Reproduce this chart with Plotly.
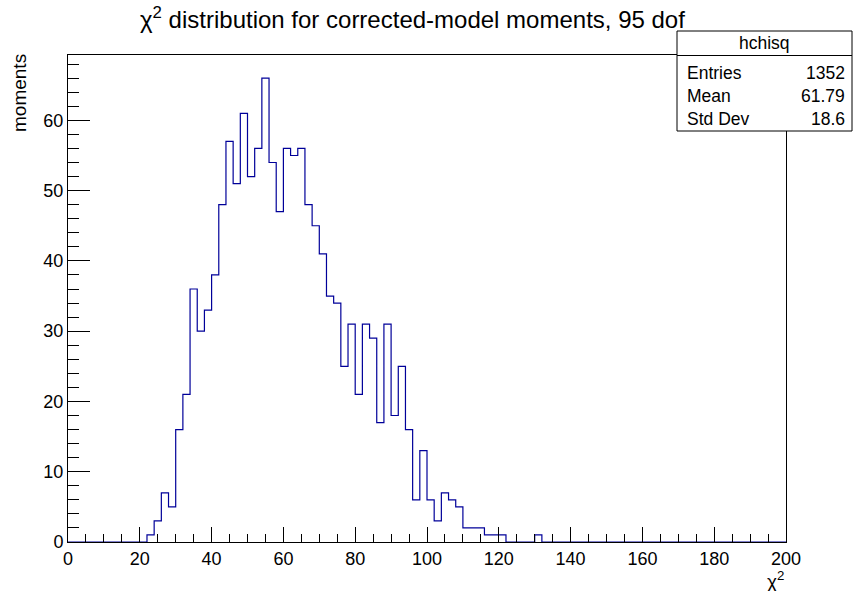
import plotly.graph_objects as go

# ---------------- data ----------------
x_low, x_high, n_bins = 0, 200, 100
counts = [
    0, 0, 0, 0, 0, 0, 0, 0, 0, 0,          # 0-20
    0, 1, 3, 7, 5, 16, 21, 36, 30, 33,     # 20-40
    38, 48, 57, 51, 61, 52, 56, 66, 54, 47,  # 40-60
    56, 55, 56, 48, 45, 41, 35, 34, 25, 31,  # 60-80
    21, 31, 29, 17, 31, 18, 25, 16, 6, 13,   # 80-100
    6, 3, 7, 6, 5, 2, 2, 2, 1, 1,          # 100-120
    1, 0, 0, 0, 0, 1, 0, 0, 0, 0,          # 120-140
    0, 0, 0, 0, 0, 0, 0, 0, 0, 0,          # 140-160
    0, 0, 0, 0, 0, 0, 0, 0, 0, 0,          # 160-180
    0, 0, 0, 0, 0, 0, 0, 0, 0, 0,          # 180-200
]
stats_name = "hchisq"
stats_labels = ["Entries", "Mean", "Std Dev"]
stats_values = ["1352", "61.79", "18.6"]
title_text = "χ<sup>2</sup> distribution for corrected-model moments, 95 dof"
x_title = "χ<sup>2</sup>"
y_title = "moments"
x_ticks = list(range(0, 201, 20))
y_ticks = list(range(0, 61, 10))

# ---------------- geometry ----------------
W, H = 856, 591
L, R, T, B = 68, 786, 55, 542   # frame in pixels
pw, ph = R - L, B - T
def px(x):
    return (x - L) / pw
def py(y):
    return (B - y) / ph

bw = (x_high - x_low) / n_bins
edges = [x_low + i * bw for i in range(n_bins + 1)]
ys = counts + [counts[-1]]
ymax = max(counts) * 1.05

FONT = "Liberation Sans, Arial, Helvetica, sans-serif"

fig = go.Figure()
fig.add_trace(go.Scatter(
    x=edges, y=ys, mode="lines", line=dict(shape="hv", color="#000099", width=1.2),
    hoverinfo="skip", showlegend=False))

fig.update_layout(
    width=W, height=H,
    margin=dict(l=L, r=W - R, t=T, b=H - B),
    paper_bgcolor="white", plot_bgcolor="white",
    font=dict(family=FONT, size=18, color="black"),
    showlegend=False,
)
fig.update_xaxes(
    range=[x_low, x_high], tickvals=x_ticks, ticktext=[str(v) for v in x_ticks],
    ticks="inside", ticklen=15, tickwidth=1, tickcolor="black",
    minor=dict(ticks="inside", ticklen=8, dtick=5, tick0=0, tickcolor="black", tickwidth=1, showgrid=False),
    showline=True, linecolor="black", linewidth=1, mirror=True,
    showgrid=False, zeroline=False, tickfont=dict(size=18, family=FONT),
)
fig.update_yaxes(
    range=[0, ymax], tickvals=y_ticks, ticktext=[str(v) for v in y_ticks],
    ticks="inside", ticklen=22, tickwidth=1, tickcolor="black",
    minor=dict(ticks="inside", ticklen=11, dtick=2, tick0=0, tickcolor="black", tickwidth=1, showgrid=False),
    showline=True, linecolor="black", linewidth=1, mirror=True,
    showgrid=False, zeroline=False, tickfont=dict(size=18, family=FONT),
)

ann = []
# title
ann.append(dict(text=title_text, x=px(412), y=py(18), xref="paper", yref="paper",
                xanchor="center", yanchor="middle", showarrow=False,
                font=dict(size=24, family=FONT)))
# axis titles
ann.append(dict(text=x_title, x=1.0, y=py(580), xref="paper", yref="paper",
                xanchor="right", yanchor="middle", showarrow=False,
                font=dict(size=19, family=FONT)))
ann.append(dict(text=y_title, x=px(19), y=py(52), xref="paper", yref="paper",
                xanchor="center", yanchor="top", textangle=-90, showarrow=False,
                font=dict(size=19, family=FONT)))

# stats box
bx0, bx1, by0, by1, bsep = 677, 852, 31, 131, 55.5
shapes = [
    dict(type="rect", xref="paper", yref="paper", x0=px(bx0), x1=px(bx1), y0=py(by1), y1=py(by0),
         fillcolor="white", line=dict(color="black", width=1), layer="above"),
    dict(type="line", xref="paper", yref="paper", x0=px(bx0), x1=px(bx1), y0=py(bsep), y1=py(bsep),
         line=dict(color="black", width=1), layer="above"),
]
ann.append(dict(text=stats_name, x=px((bx0 + bx1) / 2), y=py(43), xref="paper", yref="paper",
                xanchor="center", yanchor="middle", showarrow=False, font=dict(size=17.5, family=FONT)))
row_y = [73, 96, 119]
for lab, val, yy in zip(stats_labels, stats_values, row_y):
    ann.append(dict(text=lab, x=px(685), y=py(yy), xref="paper", yref="paper",
                    xanchor="left", yanchor="middle", showarrow=False, font=dict(size=17.5, family=FONT)))
    ann.append(dict(text=val, x=px(847), y=py(yy), xref="paper", yref="paper",
                    xanchor="right", yanchor="middle", showarrow=False, font=dict(size=17.5, family=FONT)))

fig.update_layout(annotations=ann, shapes=shapes)
fig.write_html("out.html")
